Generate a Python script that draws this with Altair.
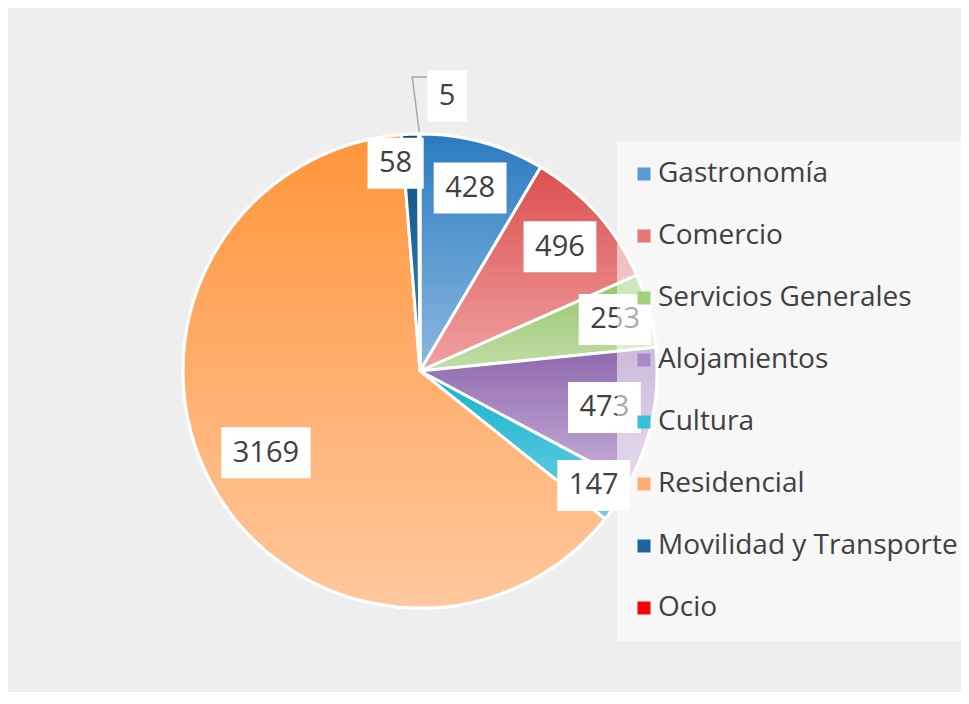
import altair as alt
import pandas as pd
import numpy as np

categories = ["Gastronomía", "Comercio", "Servicios Generales", "Alojamientos",
              "Cultura", "Residencial", "Movilidad y Transporte", "Ocio"]
values = [428, 496, 253, 473, 147, 3169, 58, 5]
legend_colors = ["#5b9bd5", "#e57777", "#a4d07e", "#a98bc4",
                 "#35bfd8", "#ffad70", "#1f64a0", "#ff0000"]
top_colors = ["#2b7abf", "#dc4f4f", "#93c466", "#8d68ad",
              "#12b2cc", "#ff953a", "#0d497b", "#ff0000"]
bottom_colors = ["#8cb9e1", "#f0a2a2", "#c2dea9", "#c7aed9",
                 "#70d1e4", "#ffc89e", "#3f88c6", "#ff0000"]

W, H = 953, 684
CX, CY = 412, 363
R = 237
FONT = "Open Sans"
FS = 29
LFS = 28

df = pd.DataFrame({"cat": categories, "value": values, "idx": range(len(values))})
total = df["value"].sum()
df["end"] = df["value"].cumsum()
df["start"] = df["end"] - df["value"]
share = df["value"] / total
mid = (df["start"] + df["value"] / 2) / total * 2 * np.pi
small = share < 0.005
# best-fit style radius: narrow slices push their label outward
r_in = np.minimum(172 + 1.5 / share, 208)
r_lab = np.where(small, 275, r_in)
df["lx"] = r_lab * np.sin(mid) + np.where(small, 28, 0)
df["ly"] = r_lab * np.cos(mid)
digits = df["value"].astype(str).str.len()
half_w = (digits * 16.6 + 23) / 2
df["hw"] = half_w

# simple collision avoidance between inside labels
inside = list(df.index[~small])
for i in inside:
    for j in inside:
        if i == j or df.at[i, "value"] >= df.at[j, "value"]:
            continue
        dx = df.at[i, "lx"] - df.at[j, "lx"]
        need = df.at[i, "hw"] + df.at[j, "hw"] + 10
        if abs(dx) < need and abs(df.at[i, "ly"] - df.at[j, "ly"]) < 51:
            df.at[i, "lx"] = df.at[j, "lx"] + np.sign(dx if dx != 0 else -1) * need

df["bx1"] = df["lx"] - df["hw"]
df["bx2"] = df["lx"] + df["hw"]
df["by1"] = df["ly"] - 25.5
df["by2"] = df["ly"] + 25.5

# leader lines for tiny slices
lead_rows = []
for idx, row in df[small].iterrows():
    m = mid[idx]
    ex, ey = (R + 2) * np.sin(m), (R + 2) * np.cos(m)
    lead_rows += [
        {"cat": row["cat"], "o": 0, "x": ex, "y": ey},
        {"cat": row["cat"], "o": 1, "x": ex - 7, "y": row["ly"] + 19},
        {"cat": row["cat"], "o": 2, "x": row["bx1"], "y": row["ly"] + 19},
    ]
lead = pd.DataFrame(lead_rows)

xs = alt.Scale(domain=[-CX, W - CX], nice=False, zero=False)
ys = alt.Scale(domain=[-(H - CY), CY], nice=False, zero=False)
ts = alt.Scale(domain=[0, int(total)])

base = alt.Chart(df)

pie = base.mark_arc(outerRadius=R, stroke="white", strokeWidth=3).encode(
    theta=alt.Theta("start:Q", scale=ts),
    theta2="end:Q",
    color=alt.Color(
        "cat:N",
        scale=alt.Scale(domain=categories, range=legend_colors),
        sort=categories,
        legend=alt.Legend(
            orient="none", legendX=609, legendY=133, title=None,
            symbolType="square", symbolSize=169, symbolStrokeWidth=0,
            symbolOpacity=1, symbolOffset=-6,
            labelFontSize=LFS, labelFont=FONT, labelColor="#404040",
            rowPadding=34, padding=19, labelLimit=0, labelOffset=0,
            fillColor="rgba(255,255,255,0.55)",
        ),
    ),
    x=alt.value(CX),
    y=alt.value(CY),
)

grad_layers = []
for cat, top, bot in zip(categories, top_colors, bottom_colors):
    g = alt.Gradient(
        gradient="linear",
        stops=[alt.GradientStop(color=top, offset=0),
               alt.GradientStop(color=bot, offset=1)],
        x1=0, x2=0, y1=0, y2=1,
    )
    grad_layers.append(
        base.transform_filter(alt.datum.cat == cat)
        .mark_arc(outerRadius=R, stroke="white", strokeWidth=3, fill=g)
        .encode(
            theta=alt.Theta("start:Q", scale=ts),
            theta2="end:Q",
            x=alt.value(CX),
            y=alt.value(CY),
        )
    )

leader = alt.Chart(lead).mark_line(color="#a6a6a6", strokeWidth=1.5).encode(
    x=alt.X("x:Q", scale=xs, axis=None),
    y=alt.Y("y:Q", scale=ys, axis=None),
    detail="cat:N",
    order="o:Q",
)

boxes = base.mark_rect(fill="white").encode(
    x=alt.X("bx1:Q", scale=xs, axis=None),
    x2="bx2:Q",
    y=alt.Y("by1:Q", scale=ys, axis=None),
    y2="by2:Q",
)

texts = base.mark_text(font=FONT, fontSize=FS, color="#404040",
                       align="center", baseline="middle").encode(
    x=alt.X("lx:Q", scale=xs, axis=None),
    y=alt.Y("ly:Q", scale=ys, axis=None),
    text="value:Q",
)

chart = alt.layer(pie, *grad_layers, leader, boxes, texts).properties(
    width=W, height=H, autosize="none", padding=0, background="#eeeeee"
).configure_view(stroke=None)

chart.save("out.html", embed_options={"renderer": "svg", "actions": False})
